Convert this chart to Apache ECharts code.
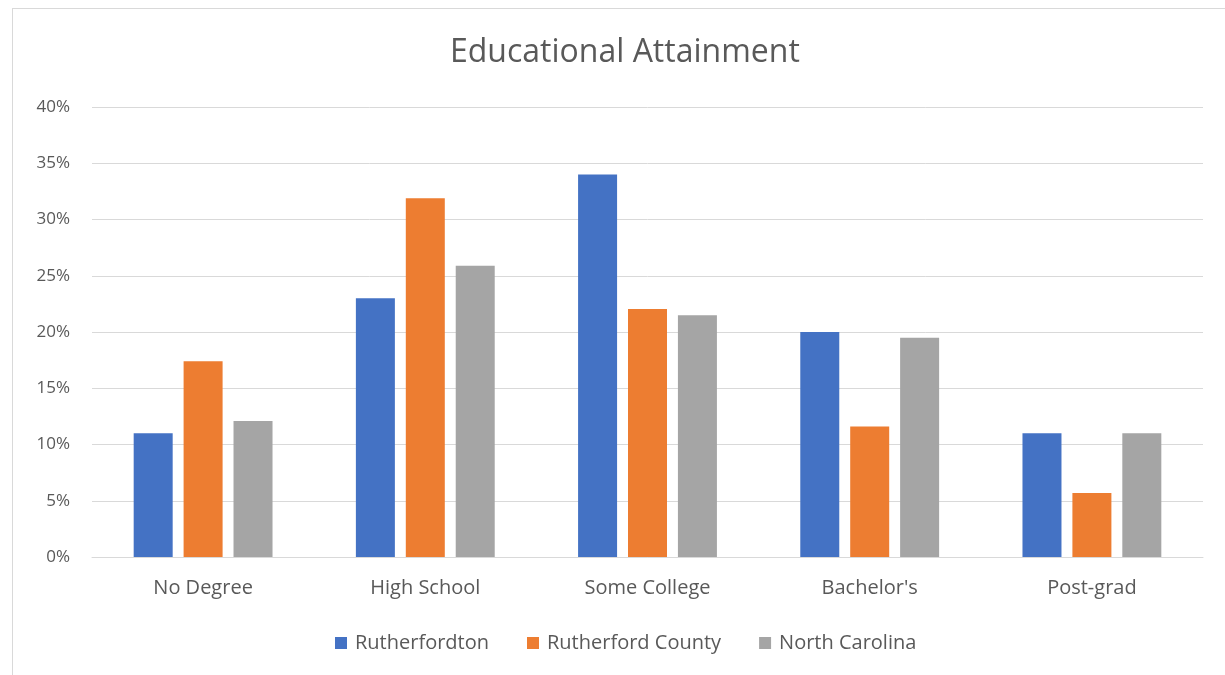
<!DOCTYPE html>
<html>
<head>
<meta charset="utf-8">
<script src="https://cdn.jsdelivr.net/npm/echarts@6/dist/echarts.min.js"></script>
<style>
html,body{margin:0;padding:0;background:#fff;}
#frame{position:absolute;left:12px;top:8px;width:1230px;height:680px;border:1px solid #d9d9d9;box-sizing:border-box;}
#chart{position:absolute;left:0;top:0;width:1225px;height:675px;}
</style>
</head>
<body>
<div id="frame"></div>
<div id="chart"></div>
<script>
const categories = ["No Degree", "High School", "Some College", "Bachelor's", "Post-grad"];
const rutherfordton = [11.0, 23.0, 34.0, 20.0, 11.0];
const rutherfordCounty = [17.4, 31.9, 22.05, 11.6, 5.7];
const northCarolina = [12.1, 25.9, 21.5, 19.5, 11.0];
const yTicks = [0, 5, 10, 15, 20, 25, 30, 35, 40];

const font = "'Open Sans', 'Liberation Sans', sans-serif";
const chart = echarts.init(document.getElementById('chart'), null, {renderer: 'canvas'});
chart.setOption({
  animation: false,
  title: {
    text: 'Educational Attainment',
    left: 445,
    top: 32,
    textStyle: {fontFamily: font, fontSize: 32, fontWeight: 'normal', color: '#595959'}
  },
  legend: {
    top: 628,
    left: 330,
    itemWidth: 12,
    itemHeight: 12,
    itemGap: 38,
    icon: 'rect',
    textStyle: {fontFamily: font, fontSize: 20, color: '#595959', padding: [0, 0, 0, 3]},
    data: ['Rutherfordton', 'Rutherford County', 'North Carolina']
  },
  grid: {left: 92, right: 22, top: 107, bottom: 118},
  xAxis: {
    type: 'category',
    data: categories,
    axisLine: {show: true, lineStyle: {color: '#d9d9d9', width: 1}},
    axisTick: {show: false},
    axisLabel: {fontFamily: font, fontSize: 20, color: '#595959', margin: 21}
  },
  yAxis: {
    type: 'value',
    min: yTicks[0],
    max: yTicks[yTicks.length - 1],
    interval: 5,
    axisLine: {show: false},
    axisTick: {show: false},
    splitLine: {lineStyle: {color: '#d9d9d9', width: 1}},
    axisLabel: {fontFamily: font, fontSize: 17, color: '#595959', margin: 22, formatter: v => v + '%'}
  },
  series: [
    {name: 'Rutherfordton', type: 'bar', data: rutherfordton, barWidth: 39, barGap: '28%', itemStyle: {color: '#4472c4'}},
    {name: 'Rutherford County', type: 'bar', data: rutherfordCounty, barWidth: 39, barGap: '28%', itemStyle: {color: '#ed7d31'}},
    {name: 'North Carolina', type: 'bar', data: northCarolina, barWidth: 39, barGap: '28%', itemStyle: {color: '#a5a5a5'}}
  ]
});
</script>
</body>
</html>
